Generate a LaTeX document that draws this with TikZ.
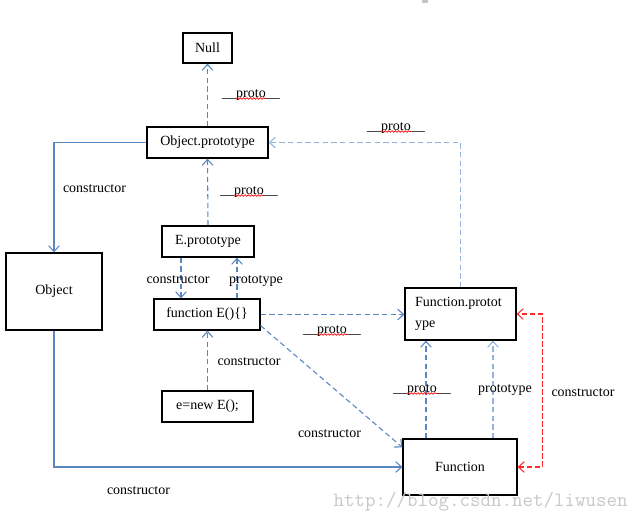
\documentclass[tikz,border=0pt]{standalone}
\usepackage{fontspec}
\setmainfont{Liberation Serif}
\usetikzlibrary{arrows.meta,calc,decorations.pathmorphing}
\definecolor{linkblue}{HTML}{5A86C2}
\definecolor{paleblue}{HTML}{92B4DE}
\definecolor{linkred}{HTML}{FF2A2A}
\definecolor{markgray}{HTML}{C8C8C8}
% "__proto__" label with the red spell-check wave under the word
\newcommand\protolabel[2]{%
  \node[lbl] (#1) at (#2) {\_\_proto\_\_};
  \draw[spell] ($(#1.base)+(-15,1.5)$) -- ($(#1.base)+(15,1.5)$);}
\begin{document}
\begin{tikzpicture}[x=0.75pt,y=-0.75pt,
  font=\fontsize{10.5pt}{15.75pt}\selectfont,
  box/.style 2 args={draw, line width=0.85pt, inner sep=0pt,
    minimum width=#1*0.75pt, minimum height=#2*0.75pt},
  link/.style={linkblue, line width=0.8pt,
    -{Straight Barb[length=4.5pt,width=8pt]}},
  dashlink/.style={link, dash pattern=on 4pt off 2.5pt},
  redlink/.style={linkred, line width=0.8pt, dash pattern=on 4pt off 2pt,
    {Straight Barb[length=4.5pt,width=8pt]}-{Straight Barb[length=4.5pt,width=8pt]}},
  lbl/.style={anchor=base, inner sep=0pt},
  spell/.style={red, line width=0.5pt,
    decorate, decoration={snake, amplitude=0.6pt, segment length=2.5pt}}]

\fill[white] (0,0) rectangle (640,521);
\useasboundingbox (0,0) rectangle (640,521);
\fill[markgray!80!black!60] (422,0) rectangle (428,3);

% boxes
\node[box={49}{30}] (null) at (207.5,48) {Null};
\node[box={121}{31}] (op) at (207.5,142.5) {Object.prototype};
\node[box={92}{31}] (ep) at (208,241.5) {E.prototype};
\node[box={106}{31}] (fe) at (207,314.5) {function E()\{\}};
\node[box={91}{31}] (en) at (207.5,406.5) {e=new E();};
\node[box={96}{77}] (obj) at (54,291.5) {Object};
\node[box={111}{52}, align=left, text width=91*0.75pt] (fp) at (460.5,314) {Function.protot\\ype};
\node[box={114}{56}] (fn) at (460,467) {Function};

% connectors
\draw[dashlink] (op.north) -- (null.south);
\draw[dashlink] (ep.north) -- (op.south);
\draw[dashlink] ($(ep.south)+(-27,0)$) -- ($(fe.north)+(-26,0)$);
\draw[dashlink] ($(fe.north)+(30,0)$) -- ($(ep.south)+(29,0)$);
\draw[dashlink] (en.north) -- (en.north |- fe.south);
\draw[dashlink] (fe.east) -- (fe.east -| fp.west);
\draw[dashlink] ($(fe.south east)+(0,-5)$) -- ($(fn.north west)+(0,9)$);
\draw[dashlink, paleblue] (fp.north) |- (op.east);
\coordinate (fnl) at ($(fn.north)+(-34,0)$);
\coordinate (fnr) at ($(fn.north)+(33,0)$);
\draw[dashlink] (fnl) -- (fnl |- fp.south);
\draw[dashlink, paleblue] (fnr) -- (fnr |- fp.south);
\draw[redlink] (fn.east) -- ++(25,0) |- (fp.east);
\draw[link] (op.west) -| (obj.north);
\draw[link] (obj.south) |- (fn.west);

% labels
\protolabel{pa}{251,97}
\protolabel{pb}{249,194}
\protolabel{pc}{396,130}
\protolabel{pd}{332,333}
\protolabel{pe}{422,392}
\node[lbl] (c1) at (94.5,192) {constructor};
\node[lbl] (c2) at (178,283) {constructor};
\node[lbl] (t1) at (256,283) {prototype};
\node[lbl] (c3) at (249,365) {constructor};
\node[lbl] (c4) at (329.5,437) {constructor};
\node[lbl] (t2) at (505,392) {prototype};
\node[lbl] (c5) at (583,396) {constructor};
\node[lbl] (c6) at (138.5,494) {constructor};

% address line
\node[anchor=base east, inner sep=0pt, text=markgray,
  font=\fontsize{15.3pt}{15.3pt}\ttfamily] (wm) at (628,506) {http://blog.csdn.net/liwusen};
\end{tikzpicture}
\end{document}
